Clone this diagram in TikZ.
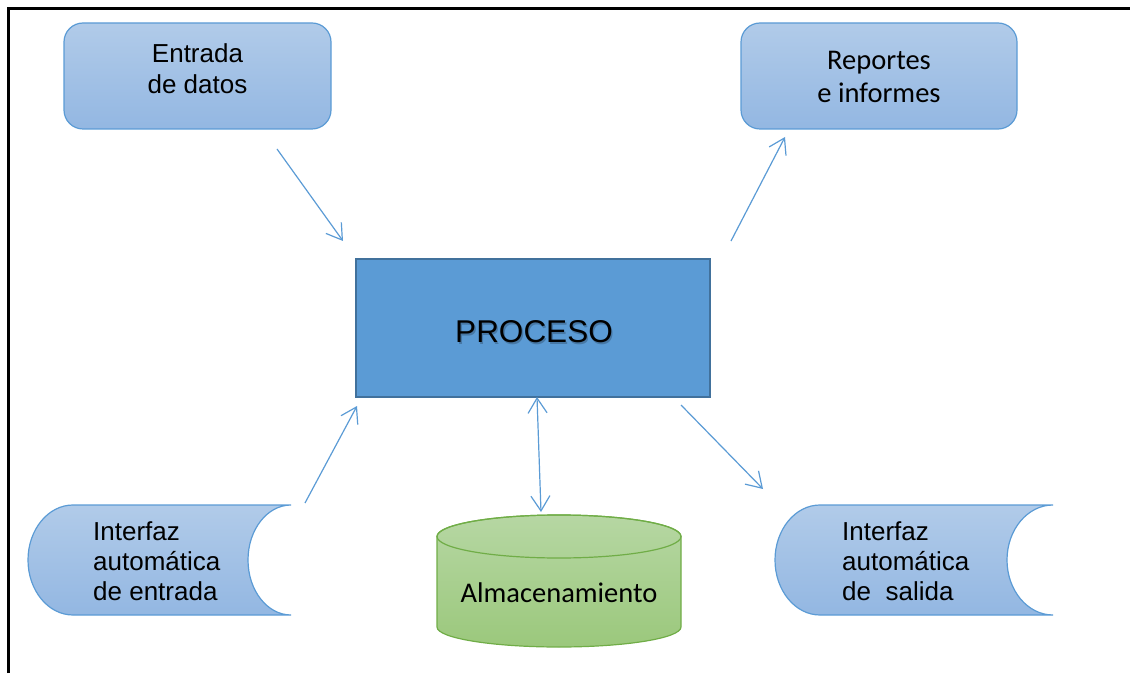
\documentclass[tikz,border=0pt]{standalone}
\usepackage{fontspec}
\setmainfont{Liberation Sans}
\newfontfamily\calibri{Carlito}
\usetikzlibrary{arrows.meta}
\definecolor{bluefillT}{HTML}{B1CBE9}
\definecolor{bluefillB}{HTML}{93B7E2}
\definecolor{blueline}{HTML}{5B9BD5}
\definecolor{procfill}{HTML}{5B9BD5}
\definecolor{procline}{HTML}{41719C}
\definecolor{greenT}{HTML}{B6D7A3}
\definecolor{greenB}{HTML}{9BC87C}
\definecolor{greenline}{HTML}{70AD47}
\begin{document}
\begin{tikzpicture}[x=1pt,y=1pt,
  bluebox/.style={draw=blueline, line width=1.2pt, top color=bluefillT, bottom color=bluefillB,
    rounded corners=19pt, minimum height=106pt, inner sep=0pt},
  storeshape/.style={draw=blueline, line width=1.2pt, top color=bluefillT, bottom color=bluefillB},
  txtA/.style={inner sep=0pt, align=center, font=\fontsize{26}{31}\selectfont},
  txtL/.style={inner sep=0pt, align=left, font=\fontsize{26}{30}\selectfont},
  txtC/.style={inner sep=0pt, align=center, font=\calibri\fontsize{28.5}{33}\selectfont},
  barb/.tip={Straight Barb[length=15pt,width=19pt,line width=1.2pt]},
  flow/.style={draw=blueline, line width=1.2pt, -barb},
  flowboth/.style={draw=blueline, line width=1.2pt, barb-barb},
]
\useasboundingbox (0,0) rectangle (1130,673);
% frame
\draw[line width=2.6pt, line join=miter] (8.5,0) -- (8.5,664.5) -- (1130,664.5);

% top boxes
\node[bluebox, minimum width=267pt] (entrada) at (197.5,597) {};
\node[txtA] (entradatxt) at (197.5,604.5) {Entrada\\de datos};
\node[bluebox, minimum width=276pt] (reportes) at (879,597) {};
\node[txtC] (reportestxt) at (879,596) {Reportes\\e informes};

% process
\node[draw=procline, line width=2pt, fill=procfill, minimum width=354pt, minimum height=138pt, inner sep=0pt] (proc) at (533,345) {};
\node[inner sep=0pt, text=black, opacity=0.22, font=\fontsize{31.5}{36}\selectfont] (procshadow) at (535.3,339.3) {PROCESO};
\node[inner sep=0pt, font=\fontsize{31.5}{36}\selectfont] (proctxt) at (534,341) {PROCESO};

% stored data shapes
\path[storeshape] (73,168) arc[start angle=90,end angle=270,x radius=45,y radius=55]
  -- (291,58) arc[start angle=270,end angle=90,x radius=43,y radius=55] -- cycle;
\coordinate (ientrada) at (160,113);
\node[txtL, anchor=north west] (ientradatxt) at (93,152) {Interfaz\\automática\\de entrada};

\path[storeshape] (820,168) arc[start angle=90,end angle=270,x radius=45,y radius=55]
  -- (1053,58) arc[start angle=270,end angle=90,x radius=46,y radius=55] -- cycle;
\coordinate (isalida) at (910,113);
\node[txtL, anchor=north west] (isalidatxt) at (842,152) {Interfaz\\automática\\de\ \ salida};

% cylinder
\path[draw=greenline, line width=1.2pt, top color=greenT, bottom color=greenB]
  (437,136.5) -- (437,46) arc[start angle=180,end angle=360,x radius=122,y radius=20]
  -- (681,136.5) arc[start angle=0,end angle=180,x radius=122,y radius=21.5] -- cycle;
\draw[greenline, line width=1.2pt] (559,136.5) ellipse[x radius=122, y radius=21.5];
\coordinate (alm) at (559,158);
\node[txtC, anchor=base] (almtxt) at (559,71) {Almacenamiento};

% connector end points
\coordinate (a1s) at (277,524);
\coordinate (a1e) at (343,432);
\coordinate (a2s) at (731,432);
\coordinate (a2e) at (785,536);
\coordinate (a3s) at (305,170);
\coordinate (a3e) at (357,267);
\coordinate (a4s) at (681,268);
\coordinate (a4e) at (763,184);
\coordinate (a5s) at (537,276);
\coordinate (a5e) at (541,161);

\draw[flow] (a1s) -- (a1e);
\draw[flow] (a2s) -- (a2e);
\draw[flow] (a3s) -- (a3e);
\draw[flow] (a4s) -- (a4e);
\draw[flowboth] (a5s) -- (a5e);
\end{tikzpicture}
\end{document}
